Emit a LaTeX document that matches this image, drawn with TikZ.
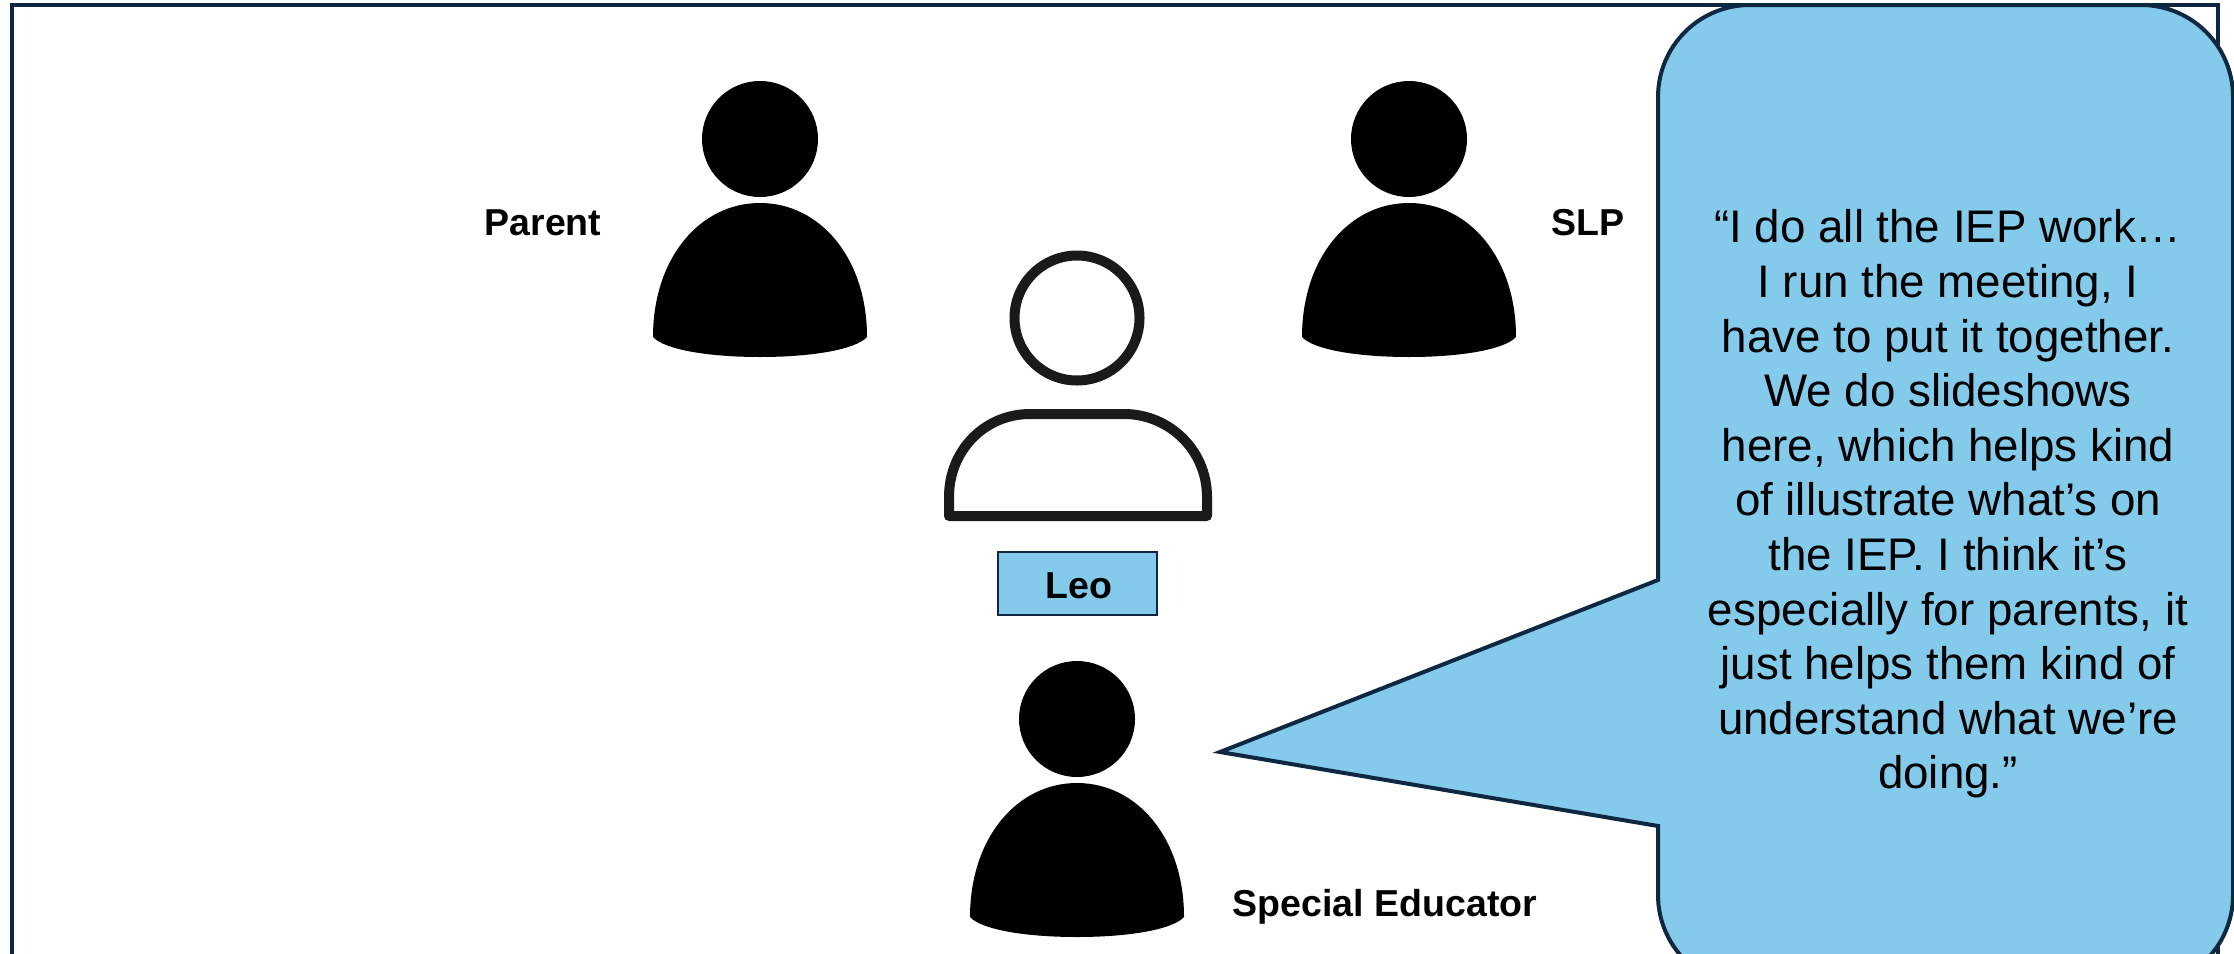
\documentclass[tikz,border=0pt]{standalone}
\usepackage{fontspec}
\setmainfont{Liberation Sans}
\definecolor{calloutblue}{HTML}{83CAEB}
\definecolor{outline}{HTML}{0E2841}
\definecolor{iconblack}{HTML}{1A1A1A}
\tikzset{
  name label/.style={anchor=base,font=\fontsize{37.5}{37.5}\selectfont\bfseries},
  quote text/.style={align=center,font=\fontsize{45.7}{54.6}\selectfont}
}
\begin{document}
\begin{tikzpicture}[x=1pt,y=-1pt]
  \useasboundingbox (0,0) rectangle (2234,953);
  \clip (0,0) rectangle (2234,953);
  % outer frame
  \draw[outline,line width=4pt] (12,1000) -- (12,4.5) -- (2218,4.5) -- (2218,1000);
  % filled people
  \foreach \px/\py in {760/0,1409/0,1077/580} {
    \fill[black] (\px,\py+139) circle (58);
    \fill[black] (\px-107,\py+337)
      .. controls (\px-107,\py+258) and (\px-60,\py+203) .. (\px,\py+203)
      .. controls (\px+60,\py+203) and (\px+107,\py+258) .. (\px+107,\py+337)
      .. controls (\px+95,\py+350) and (\px+50,\py+357) .. (\px,\py+357)
      .. controls (\px-50,\py+357) and (\px-95,\py+350) .. (\px-107,\py+337) -- cycle;
  }
  % Leo, outlined
  \draw[iconblack,line width=10pt] (1077,318) circle (62.5);
  \draw[iconblack,line width=10pt,line join=round] (949,516) -- (949,497)
    .. controls (949,450) and (985,414) .. (1030,414) -- (1124,414)
    .. controls (1169,414) and (1207,450) .. (1207,497) -- (1207,516) -- cycle;
  \node[draw=outline,fill=calloutblue,line width=2pt,minimum width=159pt,minimum height=63pt,
    inner sep=0pt] (leobox) at (1077.5,583) {};
  \node[name label] (leo) at (1079,598) {Leo};
  % labels
  \node[name label] (parent) at (543,235) {Parent};
  \node[name label] (slp) at (1588,235) {SLP};
  \node[name label] (educator) at (1385,916) {Special Educator};
  % speech bubble
  \draw[outline,fill=calloutblue,line width=4pt,miter limit=10] (1658,580)
    [rounded corners=92pt] -- (1658,5) -- (2233,5) -- (2233,987) -- (1658,987)
    [sharp corners] -- (1658,826) -- (1220,752) -- cycle;
  \node[quote text] (quote) at (1948,504) {“I do all the IEP work…\\I run the meeting, I\\have to put it together.\\We do slideshows\\here, which helps kind\\of illustrate what’s on\\the IEP. I think it’s\\especially for parents, it\\just helps them kind of\\understand what we’re\\doing.”};
\end{tikzpicture}
\end{document}
